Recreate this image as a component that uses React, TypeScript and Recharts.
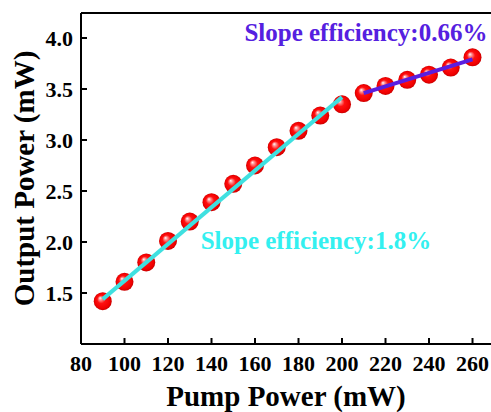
import {
  ComposedChart,
  Scatter,
  XAxis,
  YAxis,
  ReferenceLine,
  ReferenceDot,
  Label,
} from "recharts";

// measured output power vs pump power
const pump = [90, 100, 110, 120, 130, 140, 150, 160, 170, 180, 190, 200, 210, 220, 230, 240, 250, 260];
const output = [1.42, 1.61, 1.8, 2.01, 2.2, 2.39, 2.57, 2.75, 2.93, 3.09, 3.24, 3.35, 3.46, 3.53, 3.59, 3.64, 3.71, 3.81];

// linear fits (endpoints) for the two regimes
const fitLowX = [90, 200];
const fitLowY = [1.44, 3.42];
const fitHighX = [210, 260];
const fitHighY = [3.46, 3.79];

const xTicks = [80, 100, 120, 140, 160, 180, 200, 220, 240, 260];
const yTicks = [1.5, 2.0, 2.5, 3.0, 3.5, 4.0];

const points = pump.map((p, i) => ({ x: p, y: output[i] }));
const fitLow = fitLowX.map((p, i) => ({ x: p, y: fitLowY[i] }));
const fitHigh = fitHighX.map((p, i) => ({ x: p, y: fitHighY[i] }));

const FONT = '"Liberation Serif", "Times New Roman", serif';
const Y_MIN = 1.0;
const Y_MAX = 4.245;

const Ball = (props: any) => {
  const { cx, cy } = props;
  if (cx == null || cy == null) return null;
  return <circle cx={cx} cy={cy} r={9} fill="url(#ball)" />;
};

// fit lines only need the connecting segment, no point markers
const NoMark = () => <g />;

const XTick = (props: any) => {
  const { x, y, payload } = props;
  return (
    <g>
      <line x1={x} x2={x} y1={y} y2={y - 6} stroke="#000" strokeWidth={2} />
      <text x={x} y={y + 27} textAnchor="middle" fontFamily={FONT} fontWeight="bold" fontSize={22} fill="#000">
        {payload.value}
      </text>
    </g>
  );
};

const YTick = (props: any) => {
  const { x, y, payload } = props;
  return (
    <g>
      <line x1={x} x2={x + 6} y1={y} y2={y} stroke="#000" strokeWidth={2} />
      <text x={x - 8} y={y + 8} textAnchor="end" fontFamily={FONT} fontWeight="bold" fontSize={22} fill="#000">
        {Number(payload.value).toFixed(1)}
      </text>
    </g>
  );
};

export default function App() {
  return (
    <div style={{ position: "absolute", left: 0, top: 0, background: "#fff" }}>
      <ComposedChart width={491} height={412} margin={{ top: 13, right: 0, bottom: 0, left: 0 }}>
        <defs>
          <radialGradient id="ball" cx="50%" cy="50%" r="50%" fx="35%" fy="32%">
            <stop offset="0%" stopColor="#ffffff" />
            <stop offset="18%" stopColor="#ff9090" />
            <stop offset="45%" stopColor="#ff1010" />
            <stop offset="85%" stopColor="#f00000" />
            <stop offset="100%" stopColor="#c80000" />
          </radialGradient>
        </defs>
        <XAxis
          type="number"
          dataKey="x"
          domain={[80, 268.5]}
          ticks={xTicks}
          allowDataOverflow
          height={68}
          tickSize={0}
          tickMargin={0}
          tickLine={false}
          tick={<XTick />}
          axisLine={{ stroke: "#000", strokeWidth: 2 }}
        >
          <Label
            content={(p: any) => {
              const vb = p.viewBox;
              return (
                <text x={vb.x + vb.width / 2} y={vb.y + 62} textAnchor="middle" fontFamily={FONT} fontWeight="bold" fontSize={29} fill="#000">
                  Pump Power (mW)
                </text>
              );
            }}
          />
        </XAxis>
        <YAxis
          type="number"
          dataKey="y"
          domain={[Y_MIN, Y_MAX]}
          ticks={yTicks}
          allowDataOverflow
          width={81}
          tickSize={0}
          tickMargin={0}
          tickLine={false}
          tick={<YTick />}
          axisLine={{ stroke: "#000", strokeWidth: 2 }}
        >
          <Label
            content={(p: any) => {
              const vb = p.viewBox;
              const cx = 24;
              const cy = vb.y + vb.height / 2;
              return (
                <text
                  x={cx}
                  y={cy}
                  transform={`rotate(-90 ${cx} ${cy})`}
                  textAnchor="middle"
                  dominantBaseline="central"
                  fontFamily={FONT}
                  fontWeight="bold"
                  fontSize={29}
                  fill="#000"
                >
                  Output Power (mW)
                </text>
              );
            }}
          />
        </YAxis>
        <ReferenceLine y={Y_MAX} stroke="#000" strokeWidth={2} ifOverflow="visible" />
        <Scatter data={points} shape={<Ball />} isAnimationActive={false} />
        <Scatter
          data={fitLow}
          shape={<NoMark />}
          line={{ stroke: "#3fe0e0", strokeWidth: 4 }}
          isAnimationActive={false}
        />
        <Scatter
          data={fitHigh}
          shape={<NoMark />}
          line={{ stroke: "#5a1ee0", strokeWidth: 4 }}
          isAnimationActive={false}
        />
        <ReferenceDot
          x={211}
          y={4.06}
          r={0}
          stroke="none"
          label={{ value: "Slope efficiency:0.66%", position: "center", fill: "#5520e0", fontFamily: FONT, fontWeight: "bold", fontSize: 25 }}
        />
        <ReferenceDot
          x={188}
          y={2.02}
          r={0}
          stroke="none"
          label={{ value: "Slope efficiency:1.8%", position: "center", fill: "#33f0f0", fontFamily: FONT, fontWeight: "bold", fontSize: 25 }}
        />
      </ComposedChart>
    </div>
  );
}
